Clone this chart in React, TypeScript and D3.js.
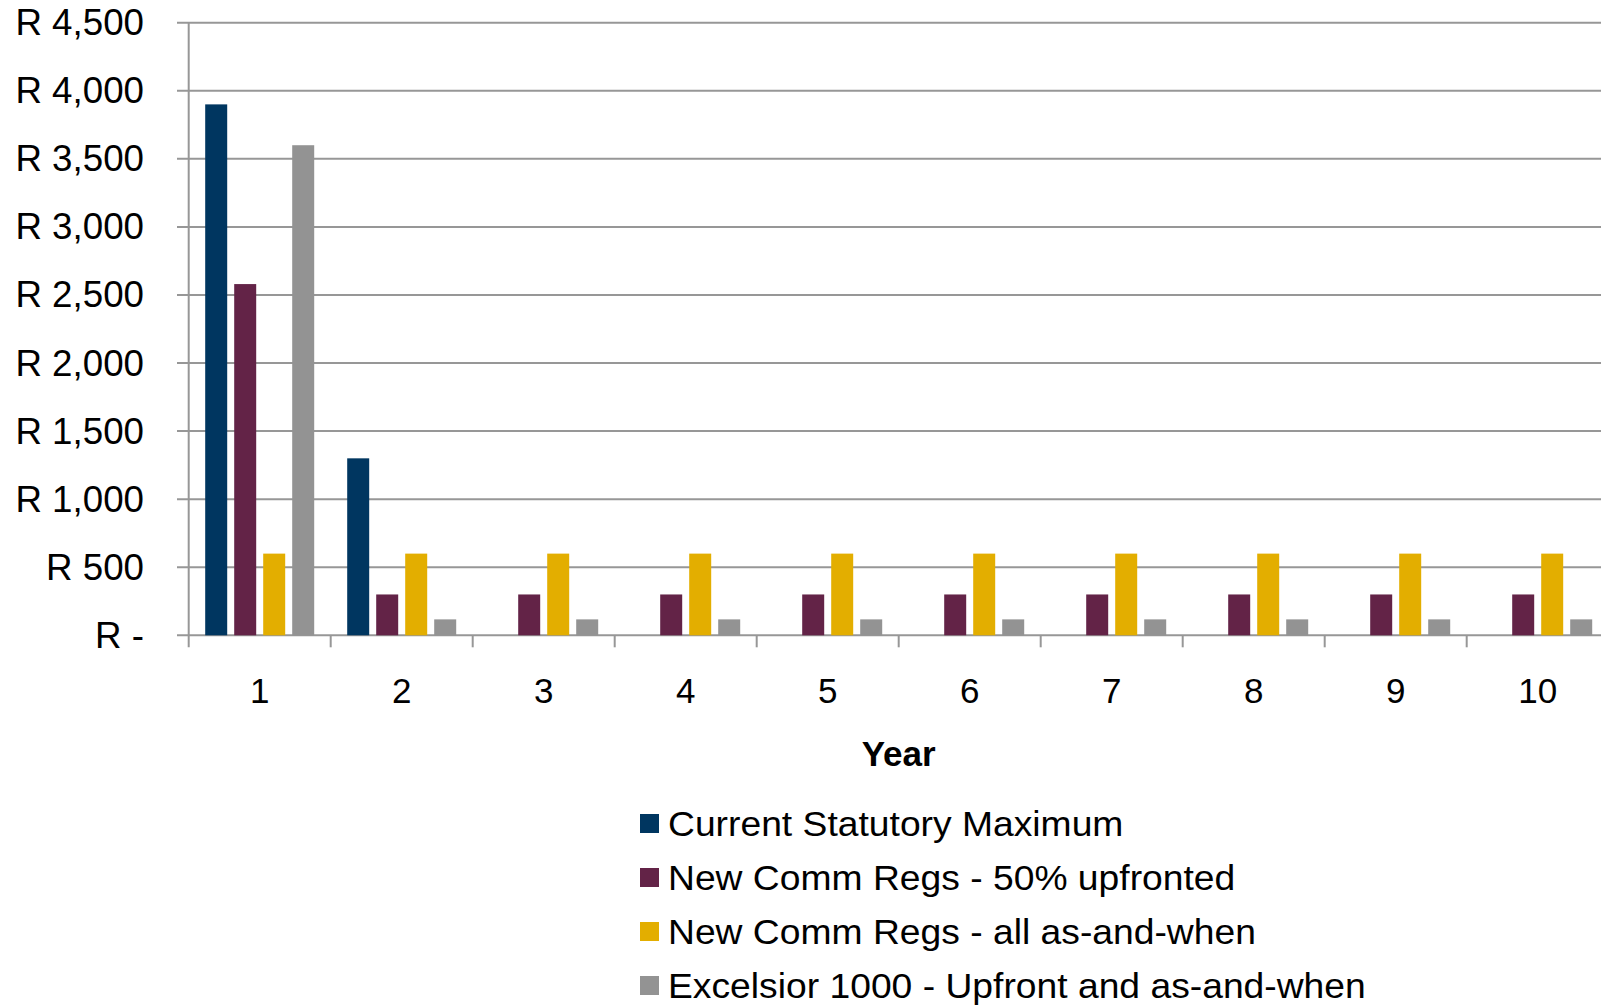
import React from "react";
import * as d3 from "d3";

const years = ["1", "2", "3", "4", "5", "6", "7", "8", "9", "10"];
const seriesNames = [
  "Current Statutory Maximum",
  "New Comm Regs - 50% upfronted",
  "New Comm Regs - all as-and-when",
  "Excelsior 1000 - Upfront and as-and-when",
];
const seriesColors = ["#003660", "#632347", "#E3AE00", "#939393"];
const currentStatutory = [3900, 1300, 0, 0, 0, 0, 0, 0, 0, 0];
const upfronted50 = [2580, 300, 300, 300, 300, 300, 300, 300, 300, 300];
const asAndWhen = [600, 600, 600, 600, 600, 600, 600, 600, 600, 600];
const excelsior = [3600, 117, 117, 117, 117, 117, 117, 117, 117, 117];
const yTicks = [0, 500, 1000, 1500, 2000, 2500, 3000, 3500, 4000, 4500];

const seriesValues = [currentStatutory, upfronted50, asAndWhen, excelsior];

const W = 1601;
const H = 1007;
const FONT = "'Liberation Sans', Arial, sans-serif";

export default function App() {
  const left = 188.7;
  const catStep = 142;
  const right = left + catStep * years.length;
  const top = 22.7;
  const bottom = 635.3;

  const x = d3.scaleBand<string>().domain(years).range([left, right]).padding(0);
  const xInner = d3
    .scaleBand<string>()
    .domain(seriesNames)
    .range([13, 129])
    .paddingInner(7 / 29)
    .paddingOuter(3.5 / 29);
  const y = d3.scaleLinear().domain([0, 4500]).range([bottom, top]);

  const fmt = (v: number) => (v === 0 ? "R -" : "R " + d3.format(",")(v));
  const gridColor = "#979797";

  return (
    <svg
      width={W}
      height={H}
      style={{ position: "absolute", left: 0, top: 0, background: "#fff" }}
      fontFamily={FONT}
    >
      {/* horizontal gridlines and y tick labels */}
      {yTicks.map((t) => (
        <g key={t}>
          <line x1={177} x2={right} y1={y(t)} y2={y(t)} stroke={gridColor} strokeWidth={2} />
          <text
            transform={`translate(144, ${y(t) + 12.5}) scale(1.02, 1)`}
            textAnchor="end"
            fontSize={36}
            fill="#000"
          >
            {fmt(t)}
          </text>
        </g>
      ))}
      {/* y axis */}
      <line x1={left} x2={left} y1={top} y2={bottom + 12} stroke={gridColor} strokeWidth={2} />
      {/* x ticks */}
      {years.map((yr, i) => (
        <line
          key={"t" + yr}
          x1={left + catStep * (i + 1)}
          x2={left + catStep * (i + 1)}
          y1={bottom}
          y2={bottom + 12}
          stroke={gridColor}
          strokeWidth={2}
        />
      ))}
      {/* bars */}
      {seriesNames.map((s, si) =>
        years.map((yr, i) => {
          const v = seriesValues[si][i];
          if (!v) return null;
          const bx = (x(yr) as number) + (xInner(s) as number);
          return (
            <rect
              key={s + yr}
              x={bx}
              y={y(v)}
              width={xInner.bandwidth()}
              height={y(0) - y(v)}
              fill={seriesColors[si]}
            />
          );
        })
      )}
      {/* x tick labels */}
      {years.map((yr) => (
        <text
          key={"l" + yr}
          x={(x(yr) as number) + x.bandwidth() / 2}
          y={702.5}
          textAnchor="middle"
          fontSize={35}
          fill="#000"
        >
          {yr}
        </text>
      ))}
      <text
        x={(left + right) / 2}
        y={766}
        textAnchor="middle"
        fontSize={35}
        fontWeight="bold"
        fill="#000"
      >
        Year
      </text>
      {/* legend */}
      {seriesNames.map((s, si) => {
        const cy = 823.5 + si * 54;
        return (
          <g key={"lg" + s}>
            <rect x={640} y={cy - 9.5} width={19} height={19} fill={seriesColors[si]} />
            <text
              transform={`translate(668, ${cy + 12.6}) scale(1.035, 1)`}
              fontSize={36}
              fill="#000"
            >
              {s}
            </text>
          </g>
        );
      })}
    </svg>
  );
}
